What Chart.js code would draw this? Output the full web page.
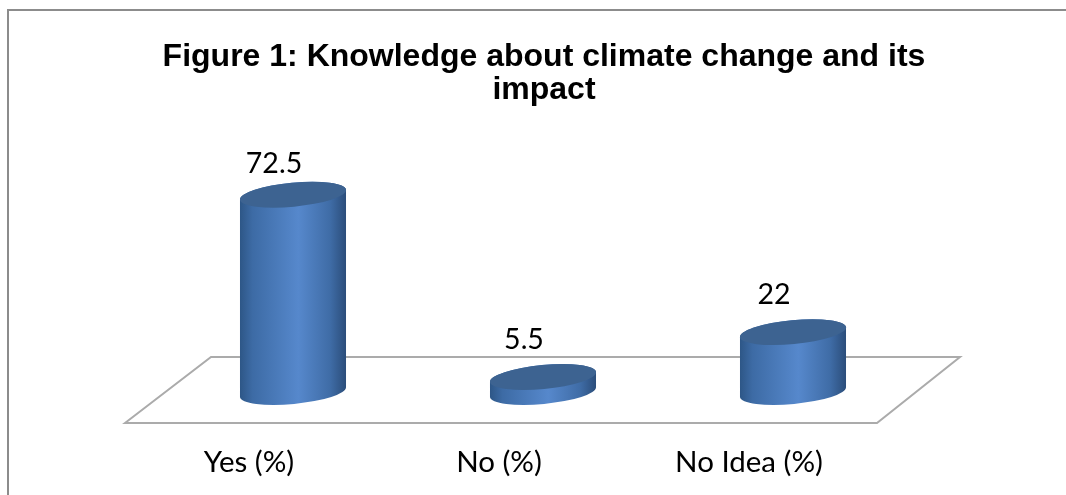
<!DOCTYPE html>
<html>
<head>
<meta charset="utf-8">
<title>Knowledge about climate change</title>
<script src="https://cdn.jsdelivr.net/npm/chart.js@4"></script>
<style>
    html, body { margin: 0; padding: 0; background: #fff; }
    #wrap { position: relative; width: 1066px; height: 495px; overflow: hidden; }
    #frame { position: absolute; left: 7px; top: 9px; width: 1059px; height: 486px;
             border-left: 2px solid #8c8c8c; border-top: 2px solid #8c8c8c; box-sizing: border-box; }
    canvas { position: absolute; left: 0; top: 0; }
</style>
</head>
<body>
<div id="wrap">
    <div id="frame"></div>
    <canvas id="myChart" width="1066" height="495"></canvas>
</div>
<script>
const categories = ['Yes (%)', 'No (%)', 'No Idea (%)'];
const percentages = [72.5, 5.5, 22];
const titleLines = ['Figure 1: Knowledge about climate change and its', 'impact'];

// back wall line and front edge of the floor, measured from the zero line
const floorBack = -35, floorFront = 31;

// how far each value label sits above the top of its cylinder
const labelLift = [31, 37, 37];

// the title is wider than the plot, so let its box run past the padding or it gets squeezed
const wideTitlePlugin = {
    id: 'wideTitle',
    afterLayout(chart) {
        const box = chart.titleBlock;
        box.left -= 30;
        box.right += 32;
        box.width = box.right - box.left;
    }
};

const floorPlugin = {
    id: 'floor',
    beforeDatasetsDraw(chart) {
        const { ctx, chartArea, scales } = chart;
        const y0 = scales.y.getPixelForValue(0);
        ctx.save();
        ctx.strokeStyle = '#ababab';
        ctx.lineWidth = 2;
        ctx.beginPath();
        ctx.moveTo(chartArea.left - 43, y0 + floorFront);
        ctx.lineTo(chartArea.left + 43, y0 + floorBack);
        ctx.lineTo(chartArea.right + 42, y0 + floorBack);
        ctx.lineTo(chartArea.right - 41, y0 + floorFront);
        ctx.closePath();
        ctx.stroke();
        ctx.restore();
    }
};

// draws each bar element as a slightly tilted cylinder
const cylinderPlugin = {
    id: 'cylinders',
    afterDatasetsDraw(chart) {
        const ctx = chart.ctx;
        const tilt = -5.4 * Math.PI / 180;
        chart.getDatasetMeta(0).data.forEach((bar, i) => {
            const rx = bar.width / 2, ry = 12;
            const grad = ctx.createLinearGradient(bar.x - rx, 0, bar.x + rx, 0);
            grad.addColorStop(0, '#2d5686');
            grad.addColorStop(0.12, '#3d6ba5');
            grad.addColorStop(0.55, '#5688cc');
            grad.addColorStop(0.85, '#3f6ca6');
            grad.addColorStop(1, '#2b4d7a');

            ctx.save();
            ctx.beginPath();
            ctx.ellipse(bar.x, bar.base, rx, ry, tilt, 0, Math.PI);
            ctx.ellipse(bar.x, bar.y, rx, ry, tilt, Math.PI, Math.PI * 2);
            ctx.closePath();
            ctx.fillStyle = grad;
            ctx.fill();

            ctx.beginPath();
            ctx.ellipse(bar.x, bar.y, rx, ry, tilt, 0, Math.PI * 2);
            ctx.fillStyle = '#3d6391';
            ctx.fill();

            ctx.fillStyle = '#000';
            ctx.font = '28.5px Lato';
            ctx.textAlign = 'center';
            ctx.textBaseline = 'middle';
            ctx.fillText(percentages[i], bar.x - 19, bar.y - labelLift[i]);
            ctx.restore();
        });
    }
};

new Chart(document.getElementById('myChart').getContext('2d'), {
    type: 'bar',
    data: {
        labels: categories,
        datasets: [{
            data: percentages,
            backgroundColor: 'transparent',
            categoryPercentage: 1,
            barPercentage: 0.426
        }]
    },
    plugins: [wideTitlePlugin, floorPlugin, cylinderPlugin],
    options: {
        responsive: false,
        animation: false,
        layout: { padding: { left: 168, right: 148, top: 41, bottom: 0 } },
        plugins: {
            legend: { display: false },
            tooltip: { enabled: false },
            title: {
                display: true,
                text: titleLines,
                color: '#000',
                font: { family: 'Liberation Sans', size: 32, weight: 'bold', lineHeight: 1.03 },
                padding: { top: 0, bottom: 13 }
            }
        },
        scales: {
            x: {
                afterFit(scale) { scale.height = 103; },
                grid: { display: false, drawTicks: false },
                border: { display: false },
                ticks: {
                    color: '#000',
                    font: { family: 'Lato', size: 29.5 },
                    padding: 52.5,
                    labelOffset: -44,
                    maxRotation: 0,
                    autoSkip: false
                }
            },
            y: { display: false, min: 0, max: 100 }
        }
    }
});
</script>
</body>
</html>
